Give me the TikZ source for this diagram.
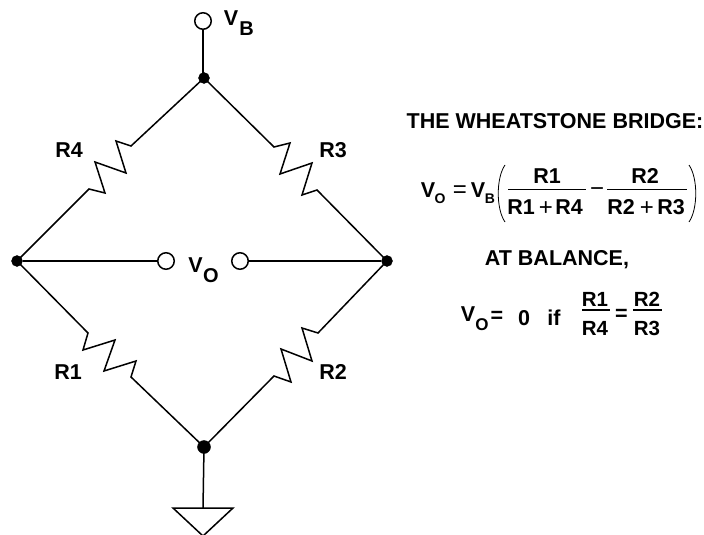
\documentclass[tikz,border=0pt]{standalone}
\usepackage{fontspec}
\setmainfont{Liberation Sans}
\tikzset{
  wire/.style={line width=1.5pt,line join=miter},
  thin wire/.style={line width=0.8pt},
  dot/.style={circle,fill=black,draw=black,inner sep=0pt,minimum size=11pt},
  term/.style={circle,draw=black,fill=white,line width=1.5pt,inner sep=0pt,minimum size=16.5pt},
  lab/.style={inner sep=0pt,font=\fontsize{21.5}{21.5}\selectfont\bfseries},
  vlab/.style={inner sep=0pt,font=\fontsize{20.5}{20.5}\selectfont\bfseries},
  sublab/.style={inner sep=0pt,font=\fontsize{20}{20}\selectfont\bfseries},
  smallsub/.style={inner sep=0pt,font=\fontsize{17}{17}\selectfont\bfseries},
  tiny/.style={inner sep=0pt,font=\fontsize{14}{14}\selectfont\bfseries},
  sym/.style={inner sep=0pt,font=\fontsize{24}{24}\selectfont}
}
\begin{document}
\begin{tikzpicture}[x=1pt,y=-1pt]
\useasboundingbox (0,0) rectangle (704,535);
\node[dot] (top) at (204,78) {};
\node[dot] (left) at (17,261) {};
\node[dot] (right) at (387,261) {};
\node[dot,minimum width=11pt,minimum height=13pt] (bot) at (204,447) {};
\node[term] (vb) at (203,21) {};
\node[term] (tl) at (166,261) {};
\node[term] (tr) at (240,261) {};
\coordinate (gnd) at (203,508);
\draw[wire] (vb) -- (vb|-top);
\draw[wire] (top.center) -- (131,146) -- (116,141) -- (126,173) -- (95,162) -- (105,193) -- (89,189) -- (left.center);
\draw[wire] (top.center) -- (274,147) -- (290,143) -- (280,174) -- (312,163) -- (302,195) -- (317,190) -- (right.center);
\draw[wire] (left.center) -- (88,333) -- (83,350) -- (115,340) -- (104,371) -- (136,361) -- (131,377) -- (bot.center);
\draw[wire] (right.center) -- (318,333) -- (302,328) -- (312,361) -- (281,349) -- (291,382) -- (274,376) -- (bot.center);
\draw[wire] (left) -- (tl);
\draw[wire] (right) -- (tr);
\draw[wire] (bot.center) -- (gnd);
\draw[wire] (173,508) -- (233,508) -- (203,536) -- cycle;
% circuit labels
\node[lab] (r4) at (69,150) {R4};
\node[lab] (r3) at (333,150) {R3};
\node[lab] (r1) at (68,372) {R1};
\node[lab] (r2) at (333,372) {R2};
\node[lab] (vbv) at (231,18) {V};
\node[sublab] (vbb) at (246.5,29) {B};
\node[lab] (vov) at (195.5,265) {V};
\node[sublab] (voo) at (211,276) {O};
% title
\node[lab] (title) at (555,121) {THE WHEATSTONE BRIDGE:};
% formula
\node[lab] (fv) at (428,190) {V};
\node[tiny] (fo) at (440,199) {O};
\node[sym] (feq) at (460,192) {=};
\node[lab] (fvb) at (478,190) {V};
\node[tiny] (fb) at (490,199) {B};
\draw[thin wire] (505,165) .. controls (496,178) and (496,209) .. (505,222);
\draw[thin wire] (689,165) .. controls (698,178) and (698,209) .. (689,222);
\draw[thin wire] (508,189) -- (586,189);
\draw[thin wire] (607,189) -- (687,189);
\node[lab] (n1) at (547,176) {R1};
\node[lab] (n2) at (645,176) {R2};
\node[lab] (d1) at (521,207) {R1};
\node[sym] (d1p) at (546,209) {+};
\node[lab] (d4) at (569,207) {R4};
\node[sym] (fm) at (597,192) {−};
\node[lab] (d2) at (621,207) {R2};
\node[sym] (d2p) at (647,209) {+};
\node[lab] (d3) at (671,207) {R3};
% balance
\node[lab] (bal) at (557,260) {AT BALANCE,};
\node[lab] (bv) at (468,314) {V};
\node[smallsub] (bo) at (482,325) {O};
\node[lab] (beq) at (497,317) {=};
\node[lab] (b0) at (524,318) {0};
\node[lab] (bif) at (554,318) {if};
\node[vlab] (bn1) at (595,299) {R1};
\node[vlab] (bd1) at (595,328) {R4};
\draw[wire] (582,310) -- (610,310);
\node[lab] (beq2) at (621.5,315) {=};
\node[vlab] (bn2) at (647,299) {R2};
\node[vlab] (bd2) at (647,328) {R3};
\draw[wire] (633,310) -- (662,310);
\end{tikzpicture}
\end{document}
